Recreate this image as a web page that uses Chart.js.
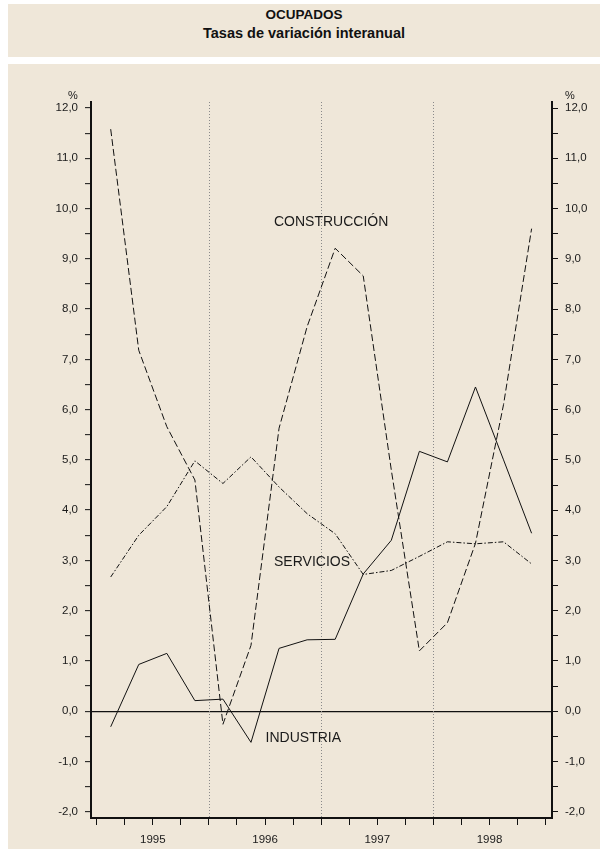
<!DOCTYPE html>
<html>
<head>
<meta charset="utf-8">
<script src="https://cdn.jsdelivr.net/npm/chart.js@4/dist/chart.umd.min.js"></script>
<style>
  html, body { margin:0; padding:0; background:#ffffff; }
  body { width:607px; height:853px; position:relative; overflow:hidden; font-family:"Liberation Sans", Arial, Helvetica, sans-serif; }
  .panel { position:absolute; background:#efe7d9; }
  #titlePanel { left:8px; top:4px; width:592px; height:53px; text-align:center; }
  #titlePanel div { font-weight:bold; color:#111; line-height:18px; }
  #chartPanel { left:8px; top:64px; width:592px; height:785px; }
  #c { position:absolute; left:0; top:0; }
</style>
</head>
<body>
<div class="panel" id="titlePanel">
  <div style="margin-top:2px;font-size:13.5px">OCUPADOS</div>
  <div style="font-size:14.5px">Tasas de variación interanual</div>
</div>
<div class="panel" id="chartPanel"></div>
<canvas id="c" width="607" height="853"></canvas>
<script>
// ---- data ----
const quarters = ['I-95','II-95','III-95','IV-95','I-96','II-96','III-96','IV-96',
                  'I-97','II-97','III-97','IV-97','I-98','II-98','III-98','IV-98'];
const years = ['1995','1996','1997','1998'];
const industria    = [-0.31, 0.93, 1.15, 0.21, 0.24, -0.62, 1.25, 1.42, 1.43, 2.73, 3.40, 5.17, 4.96, 6.45, 5.00, 3.54];
const construccion = [11.58, 7.18, 5.66, 4.60, -0.26, 1.31, 5.63, 7.65, 9.21, 8.66, 4.80, 1.20, 1.76, 3.34, 6.10, 9.60];
const servicios    = [2.67, 3.50, 4.07, 4.98, 4.53, 5.06, 4.46, 3.93, 3.53, 2.72, 2.80, 3.08, 3.37, 3.33, 3.37, 2.93];
const yTickValues = [-2,-1.5,-1,-0.5,0,0.5,1,1.5,2,2.5,3,3.5,4,4.5,5,5.5,6,6.5,7,7.5,8,8.5,9,9.5,10,10.5,11,11.5,12];

// ---- derived ----
const toPts = arr => arr.map((v,i) => ({x:i, y:v}));
const xTickValues = quarters.map((q,i) => i - 0.5).concat([quarters.length - 0.5]);
const yearPos = years.map((y,k) => 4*k + 1.5);
const yearBoundaries = [3.5, 7.5, 11.5];

const FONT = '"Liberation Sans", Arial, Helvetica, sans-serif';
const fmt = v => Number.isInteger(v) ? v.toFixed(1).replace('.', ',') : '';

const seriesLabels = [
  {text:'CONSTRUCCIÓN', x:5.82, y:9.73},
  {text:'SERVICIOS',    x:5.82, y:2.96},
  {text:'INDUSTRIA',    x:5.52, y:-0.54}
];

const overlay = {
  id:'overlay',
  beforeDatasetsDraw(chart) {
    const {ctx, chartArea:a, scales:{x}} = chart;
    ctx.save();
    ctx.strokeStyle = '#8a8a8a';
    ctx.lineWidth = 1;
    ctx.setLineDash([1,2]);
    yearBoundaries.forEach(v => {
      const px = Math.round(x.getPixelForValue(v)) + 0.5;
      ctx.beginPath(); ctx.moveTo(px, a.top); ctx.lineTo(px, a.bottom); ctx.stroke();
    });
    ctx.restore();
  },
  afterDraw(chart) {
    const {ctx, chartArea:a, scales:{x, y}} = chart;
    ctx.save();
    ctx.fillStyle = '#1a1a1a';
    ctx.font = '14px ' + FONT;
    ctx.textAlign = 'left';
    ctx.textBaseline = 'middle';
    seriesLabels.forEach(l => ctx.fillText(l.text, x.getPixelForValue(l.x), y.getPixelForValue(l.y)));
    ctx.font = '11px ' + FONT;
    ctx.textAlign = 'center';
    ctx.fillText('%', a.left - 18, a.top - 6);
    ctx.fillText('%', a.right + 18, a.top - 6);
    ctx.restore();
  }
};

const tickFont = {family: FONT, size: 11.5};

new Chart(document.getElementById('c'), {
  type: 'line',
  data: {
    datasets: [
      {label:'INDUSTRIA', data: toPts(industria), borderColor:'#111', borderWidth:1},
      {label:'CONSTRUCCIÓN', data: toPts(construccion), borderColor:'#111', borderWidth:1, borderDash:[7,3]},
      {label:'SERVICIOS', data: toPts(servicios), borderColor:'#111', borderWidth:1, borderDash:[5,2,1.5,2]}
    ]
  },
  options: {
    responsive: false,
    animation: false,
    devicePixelRatio: 1,
    layout: {padding: {top: 102, left: 0, right: 0, bottom: 0}},
    plugins: {legend: {display: false}, tooltip: {enabled: false}},
    elements: {point: {radius: 0}, line: {tension: 0, fill: false}},
    scales: {
      x: {
        type: 'linear', min: -0.702, max: 15.727,
        afterBuildTicks: s => { s.ticks = xTickValues.map(v => ({value: v})); },
        afterFit: s => { s.height = 35; },
        grid: {drawOnChartArea: false, drawTicks: true, tickLength: 7, tickColor: '#111', tickWidth: 1},
        border: {display: true, color: '#111', width: 2},
        ticks: {
          autoSkip: false, maxRotation: 0, padding: 8, color: '#1a1a1a', font: tickFont,
          callback: v => { const k = yearPos.indexOf(v); return k >= 0 ? years[k] : ''; }
        }
      },
      y: {
        type: 'linear', position: 'left', min: -2.125, max: 12.12,
        afterBuildTicks: s => { s.ticks = yTickValues.map(v => ({value: v})); },
        afterFit: s => { s.width = 91; },
        grid: {
          drawOnChartArea: true, drawTicks: true, tickLength: 6, tickColor: '#111', tickWidth: 1,
          lineWidth: 1.3,
          color: c => (c.tick && c.tick.value === 0) ? '#111' : 'rgba(0,0,0,0)'
        },
        border: {display: true, color: '#111', width: 2},
        ticks: {autoSkip: false, padding: 7, color: '#1a1a1a', font: tickFont, callback: v => fmt(v)}
      },
      y2: {
        type: 'linear', position: 'right', min: -2.125, max: 12.12,
        afterBuildTicks: s => { s.ticks = yTickValues.map(v => ({value: v})); },
        afterFit: s => { s.width = 55; },
        grid: {drawOnChartArea: false, drawTicks: true, tickLength: 6, tickColor: '#111', tickWidth: 1},
        border: {display: true, color: '#111', width: 2},
        ticks: {autoSkip: false, padding: 7, color: '#1a1a1a', font: tickFont, callback: v => fmt(v)}
      }
    }
  },
  plugins: [overlay]
});
</script>
</body>
</html>
